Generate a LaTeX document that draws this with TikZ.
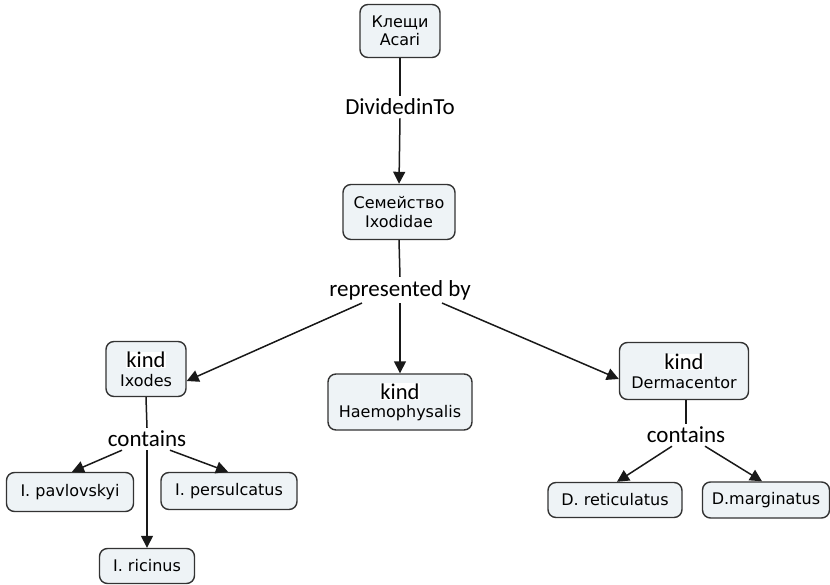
\documentclass[tikz,border=0pt]{standalone}
\usepackage{fontspec}
\usetikzlibrary{arrows.meta}
\newfontfamily\boxfont{DejaVu Sans}
\newfontfamily\lblfont{Carlito}
\definecolor{boxfill}{HTML}{EEF3F6}
\definecolor{boxline}{HTML}{333333}
\newcommand{\kindtag}{{\setlength{\fboxsep}{0.5pt}\lblfont\fontsize{22.5}{22.5}\selectfont\colorbox{white}{kind}}}
\tikzset{
  concept/.style={draw=boxline, line width=1.4pt, fill=boxfill, rounded corners=8pt,
    align=center, inner sep=2pt, font=\boxfont\fontsize{16}{18.5}\selectfont},
  lbl/.style={inner sep=3pt, font=\lblfont\fontsize{23}{26}\selectfont},
  link/.style={line width=1.5pt, draw=black!90},
  arr/.style={link, -{Triangle[length=12pt,width=12pt]}}
}
\begin{document}
\begin{tikzpicture}[x=1pt,y=-1pt]
\useasboundingbox (0,0) rectangle (830,585);
\node[concept, minimum width=80pt, minimum height=53pt] (acari) at (400,31) {Клещи\\Acari};
\node[lbl] (div) at (400,107) {DividedinTo};
\node[concept, minimum width=112pt, minimum height=55pt] (ixodidae) at (399,212) {Семейство\\Ixodidae};
\node[lbl] (rep) at (400,290) {represented by};
\node[concept, minimum width=80pt, minimum height=55pt] (ixodes) at (146,369) {\kindtag\\Ixodes};
\node[concept, minimum width=144pt, minimum height=56pt] (haem) at (400,402) {\kindtag\\Haemophysalis};
\node[concept, minimum width=129pt, minimum height=57pt] (derm) at (684,371) {\kindtag\\Dermacentor};
\node[lbl] (contL) at (147,439) {contains};
\node[lbl] (contR) at (686,435) {contains};
\node[concept, minimum width=127pt, minimum height=39pt] (pav) at (70,492) {I. pavlovskyi};
\node[concept, minimum width=136pt, minimum height=37pt] (pers) at (229,491) {I. persulcatus};
\node[concept, minimum width=95pt, minimum height=35pt] (ric) at (147,566) {I. ricinus};
\node[concept, minimum width=134pt, minimum height=35pt] (ret) at (615,500) {D. reticulatus};
\node[concept, minimum width=127pt, minimum height=36pt] (marg) at (766,500) {D.marginatus};

\draw[link] (acari.south) -- (div.north);
\draw[arr] (div.south) -- (ixodidae.north);
\draw[link] (ixodidae.south) -- (rep.north);
\draw[arr] ([xshift=-38pt]rep.south) -- ([yshift=-12pt]ixodes.east);
\draw[arr] (rep.south) -- (haem.north);
\draw[arr] ([xshift=42pt]rep.south) -- ([yshift=-8pt]derm.west);
\draw[link] (ixodes.south) -- (contL.north);
\draw[arr] ([xshift=-25pt]contL.south) -- ([xshift=2pt]pav.north);
\draw[arr] (contL.south) -- (ric.north);
\draw[arr] ([xshift=23pt]contL.south) -- ([xshift=-1pt]pers.north);
\draw[link] ([xshift=2pt]derm.south) -- (contR.north);
\draw[arr] ([xshift=-14pt]contR.south) -- ([xshift=2pt]ret.north);
\draw[arr] ([xshift=19pt]contR.south) -- ([xshift=-4pt]marg.north);
\end{tikzpicture}
\end{document}
